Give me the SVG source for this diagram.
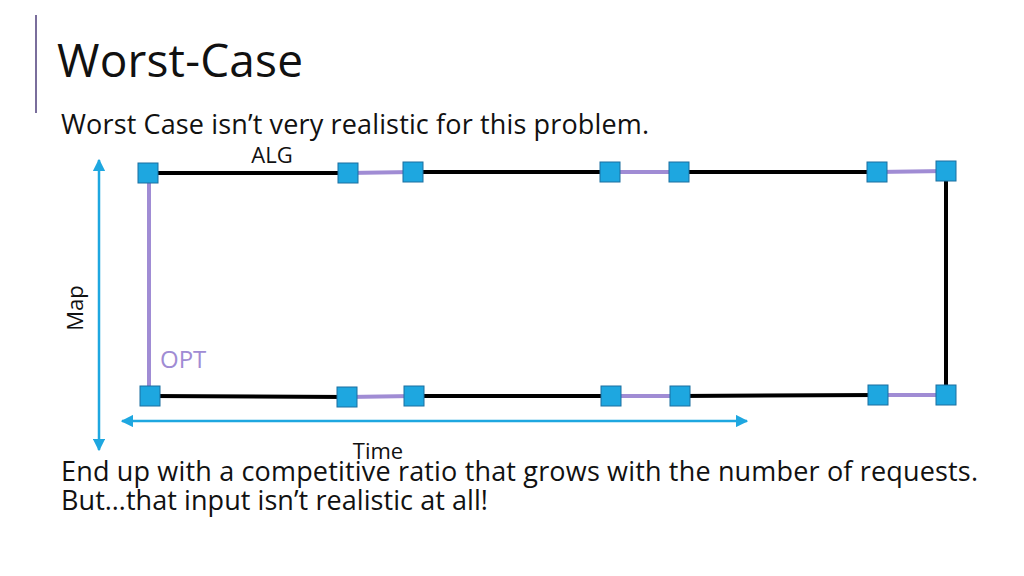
<svg xmlns="http://www.w3.org/2000/svg" width="1024" height="576" viewBox="0 0 1024 576">
<style>
text{font-family:"Open Sans","Noto Sans",sans-serif}
.b{stroke:#000;stroke-width:4;fill:none}
.p{stroke:#a08cd4;stroke-width:4;fill:none}
.sq{fill:#1ea7e0;stroke:#1b6fa0;stroke-width:1}
.ax{stroke:#1ea7e0;stroke-width:2.5;fill:none}
</style>
<defs>
<marker id="ah" viewBox="0 0 10 10" refX="9" refY="5" markerWidth="5" markerHeight="5" orient="auto-start-reverse"><path d="M0,0L10,5L0,10z" fill="#1ea7e0"/></marker>
</defs>
<rect width="1024" height="576" fill="#fff"/>
<line x1="36" y1="15" x2="36" y2="113" stroke="#7a6e9c" stroke-width="2"/>
<text x="57" y="77" font-size="46" fill="#111" textLength="246">Worst-Case</text>
<text x="61" y="134" font-size="27" fill="#111" textLength="588">Worst Case isn’t very realistic for this problem.</text>
<text x="272" y="163" font-size="22" text-anchor="middle" fill="#111">ALG</text>
<text x="160" y="368" font-size="24" fill="#a08cd4">OPT</text>
<text x="378" y="459" font-size="22" text-anchor="middle" fill="#111">Time</text>
<text transform="translate(83,308) rotate(-90)" font-size="22" text-anchor="middle" fill="#111">Map</text>
<text x="61" y="481" font-size="27" fill="#111" textLength="917">End up with a competitive ratio that grows with the number of requests.</text>
<text x="61" y="510" font-size="27" fill="#111" textLength="427">But…that input isn’t realistic at all!</text>
<g id="connectors">
<line class="ax" x1="99" y1="160" x2="99" y2="450" marker-start="url(#ah)" marker-end="url(#ah)"/>
<line class="ax" x1="122" y1="421" x2="747" y2="421" marker-start="url(#ah)" marker-end="url(#ah)"/>
<line class="p" x1="149" y1="173" x2="149" y2="396"/>
<line class="b" x1="946" y1="171" x2="946" y2="395"/>
<line class="b" x1="148" y1="173" x2="348" y2="173"/>
<line class="p" x1="348" y1="173" x2="413" y2="172"/>
<line class="b" x1="413" y1="172" x2="610" y2="172"/>
<line class="p" x1="610" y1="172" x2="679" y2="172"/>
<line class="b" x1="679" y1="172" x2="877" y2="172"/>
<line class="p" x1="877" y1="172" x2="946" y2="171"/>
<line class="b" x1="150" y1="396" x2="347" y2="397"/>
<line class="p" x1="347" y1="397" x2="414" y2="396"/>
<line class="b" x1="414" y1="396" x2="611" y2="396"/>
<line class="p" x1="611" y1="396" x2="680" y2="396"/>
<line class="b" x1="680" y1="396" x2="878" y2="395"/>
<line class="p" x1="878" y1="395" x2="946" y2="395"/>
</g>
<g id="t1"><rect class="sq" x="138" y="163" width="20" height="20"/></g>
<g id="t2"><rect class="sq" x="338" y="163" width="20" height="20"/></g>
<g id="t3"><rect class="sq" x="403" y="162" width="20" height="20"/></g>
<g id="t4"><rect class="sq" x="600" y="162" width="20" height="20"/></g>
<g id="t5"><rect class="sq" x="669" y="162" width="20" height="20"/></g>
<g id="t6"><rect class="sq" x="867" y="162" width="20" height="20"/></g>
<g id="t7"><rect class="sq" x="936" y="161" width="20" height="20"/></g>
<g id="b1"><rect class="sq" x="140" y="386" width="20" height="20"/></g>
<g id="b2"><rect class="sq" x="337" y="387" width="20" height="20"/></g>
<g id="b3"><rect class="sq" x="404" y="386" width="20" height="20"/></g>
<g id="b4"><rect class="sq" x="601" y="386" width="20" height="20"/></g>
<g id="b5"><rect class="sq" x="670" y="386" width="20" height="20"/></g>
<g id="b6"><rect class="sq" x="868" y="385" width="20" height="20"/></g>
<g id="b7"><rect class="sq" x="936" y="385" width="20" height="20"/></g>
</svg>
